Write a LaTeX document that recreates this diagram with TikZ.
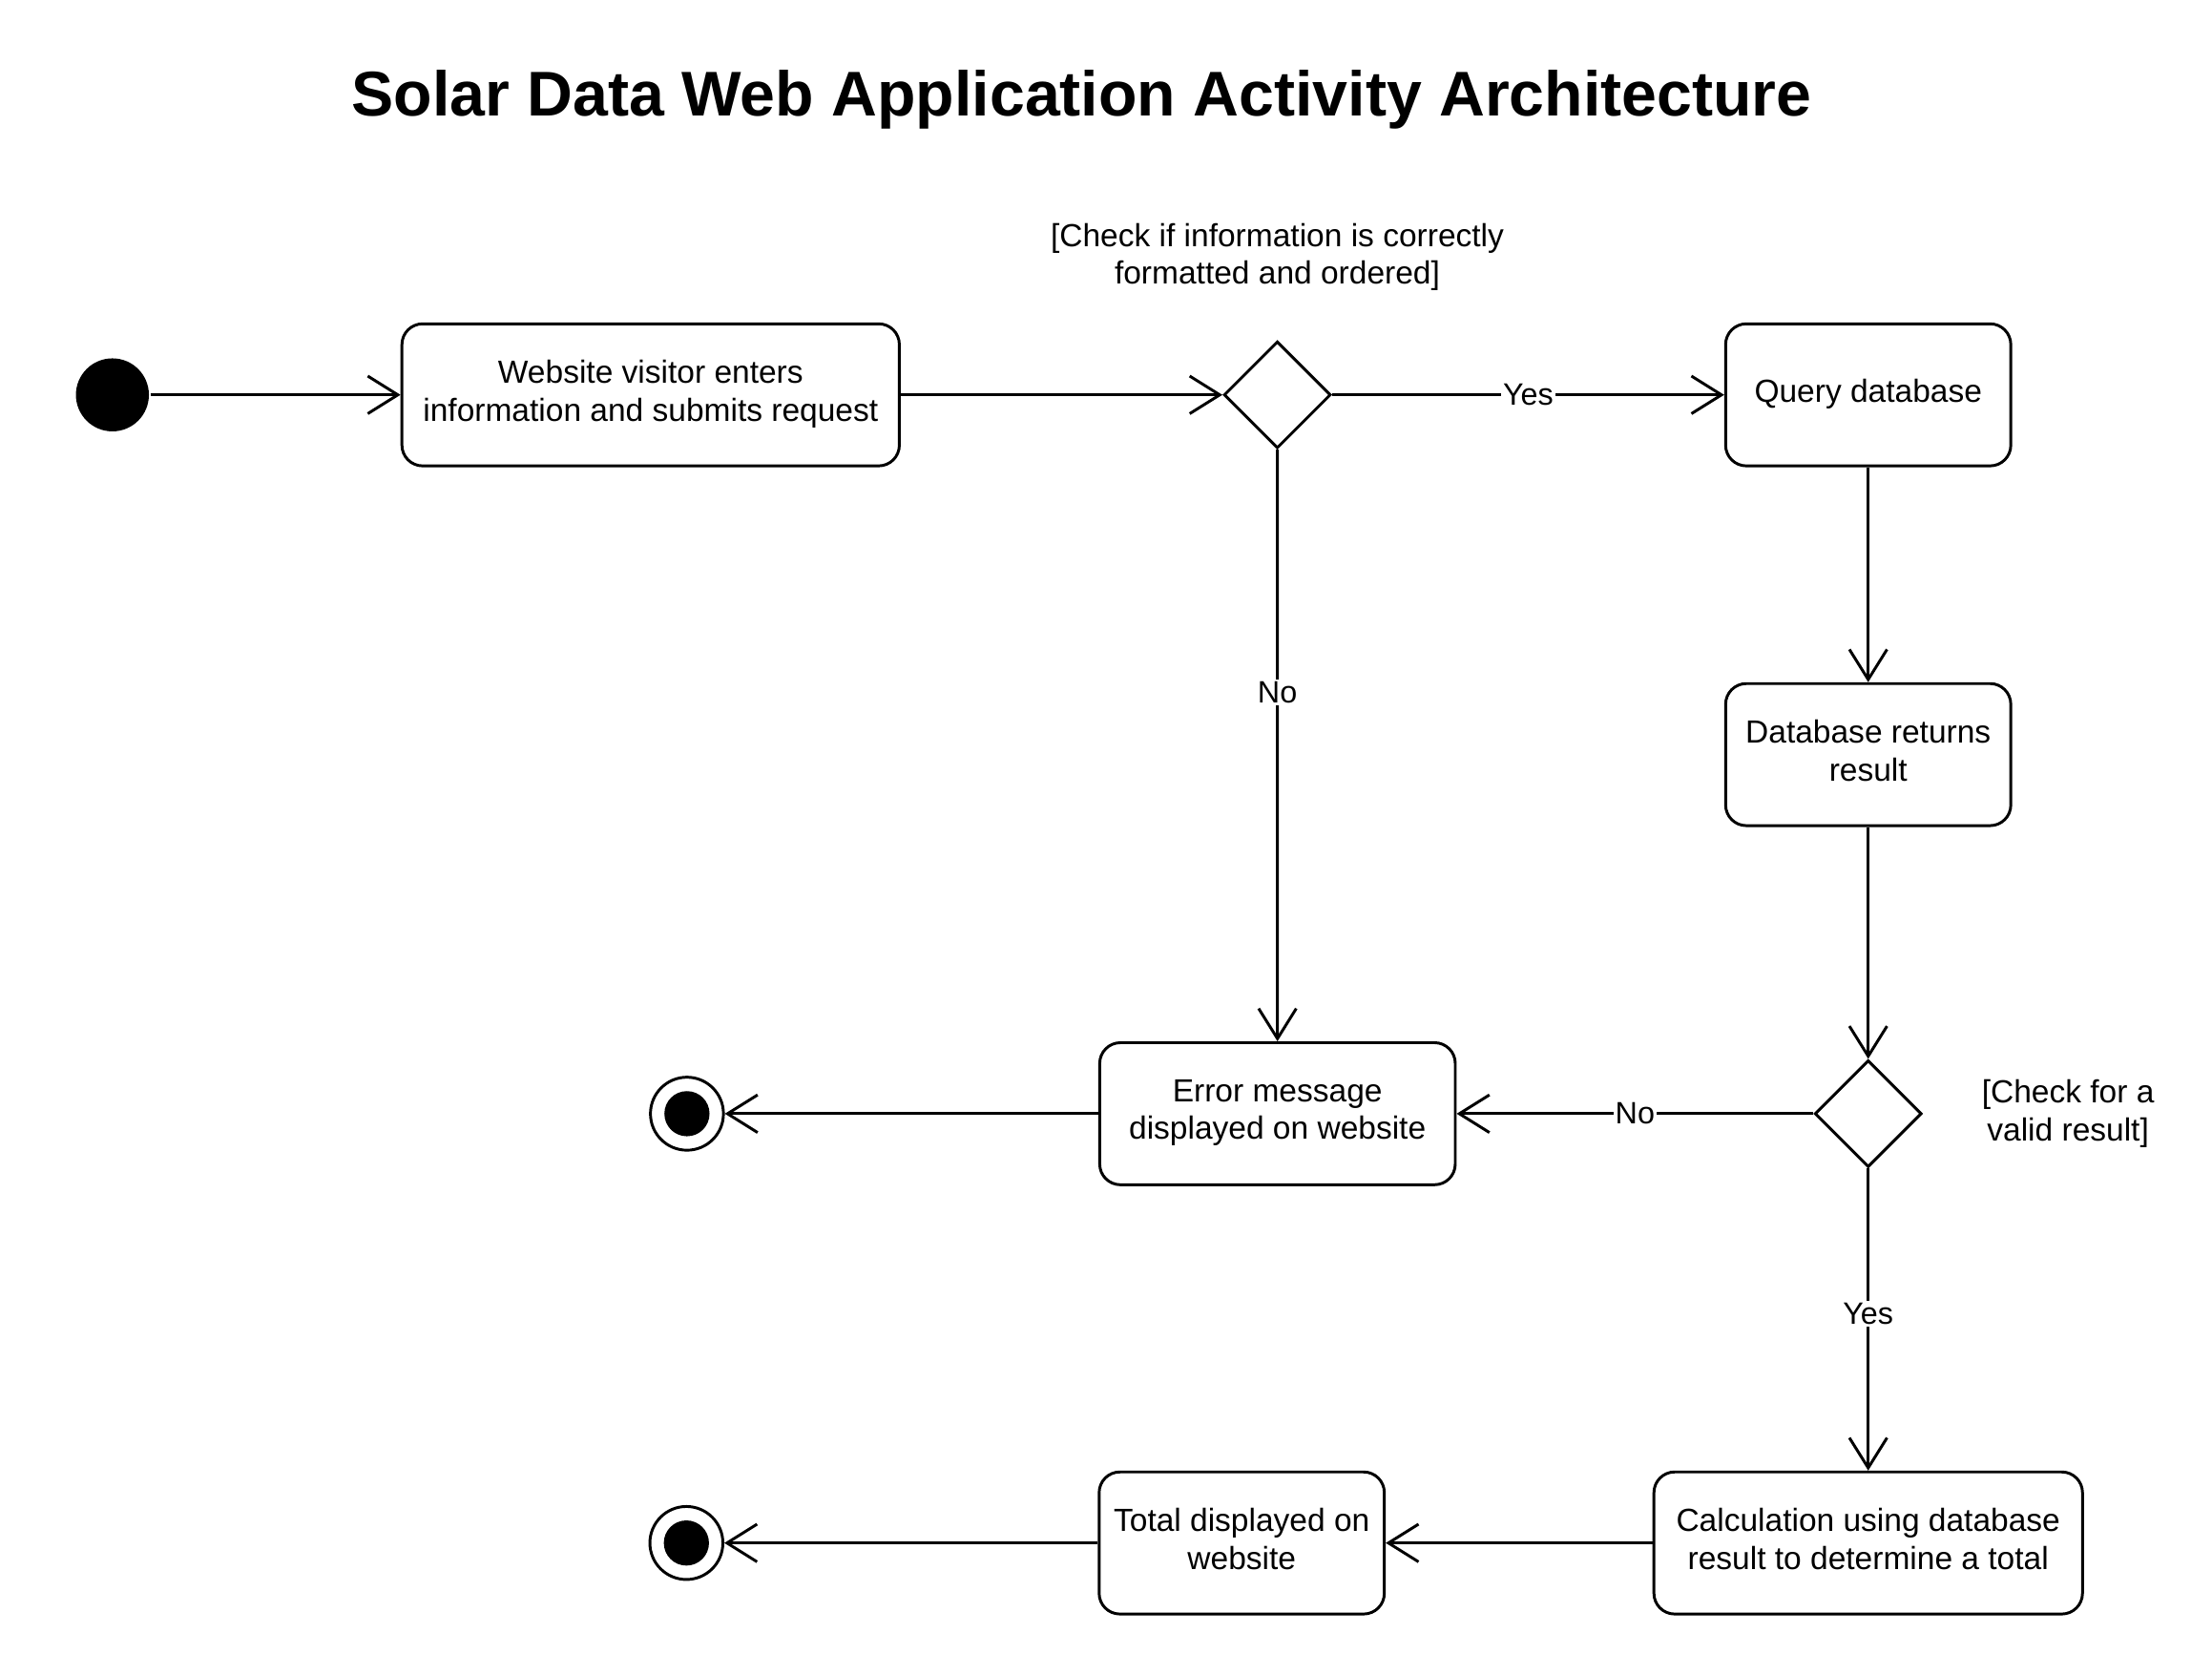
\documentclass[tikz,border=0pt]{standalone}
\usepackage{fontspec}
\setmainfont{Liberation Sans}
\usepackage{tikz}
\usetikzlibrary{positioning,shapes.geometric,arrows.meta}

\tikzset{
	activity/.style={draw, rounded corners=11pt, minimum height=75.5pt, inner sep=0pt, align=center, execute at end node={\rule[-4.4pt]{0pt}{1pt}}},
	decision/.style={draw, diamond, minimum width=56.8pt, minimum height=56.8pt, inner sep=0pt},
	startnode/.style={circle, fill, minimum size=38.8pt, inner sep=0pt},
	endnode/.style={circle, draw, minimum size=38.8pt, inner sep=0pt, path picture={\fill (path picture bounding box.center) circle (12pt);}},
	guard/.style={align=center, inner sep=0pt},
	lbl/.style={fill=white, inner sep=1pt, font=\fontsize{16.4pt}{19pt}\selectfont},
}

\begin{document}
\begin{tikzpicture}[x=0.5pt, y=-0.5pt, line width=1.5pt, font=\fontsize{17pt}{20pt}\selectfont, >={Straight Barb[length=16pt,width=20pt]}]
	\useasboundingbox (0,0) rectangle (2351.6,1758.1);
	\node[font=\fontsize{33.6pt}{40pt}\selectfont\bfseries] (title) at (1150,105.5) {Solar Data Web Application Activity Architecture};
	
	\node[startnode] (start) at (119.5,419.7) {};
	\node[activity, minimum width=264.4pt, right=133pt of start] (enter) {Website visitor enters\\information and submits request};
	\node[decision, right=171pt of enter] (checkfmt) {};
	\node[guard, above=25.5pt of checkfmt] (fmtguard) {[Check if information is correctly\\formatted and ordered]};
	\node[activity, minimum width=151.6pt, right=208.4pt of checkfmt] (query) {Query database};
	\node[activity, minimum width=151.6pt, below=114.2pt of query] (result) {Database returns\\result};
	\node[decision, below=123.2pt of result] (checkres) {};
	\node[guard, right=30.5pt of checkres] (resguard) {[Check for a\\valid result]};
	\node[activity, minimum width=189pt, left=189.6pt of checkres] (error) {Error message\\displayed on website};
	\node[endnode, left=198.5pt of error] (end1) {};
	\node[activity, minimum width=227.8pt, below=160.5pt of checkres] (calc) {Calculation using database\\result to determine a total};
	\node[activity, minimum width=151.6pt, left=141.8pt of calc] (total) {Total displayed on\\website};
	\node[endnode, left=198.5pt of total] (end2) {};
	
	\path[->] (start) edge (enter);
	\path[->] (enter) edge (checkfmt);
	\path[->] (checkfmt) edge node[lbl]{Yes} (query);
	\path[->] (checkfmt) edge node[lbl, pos=0.41]{No} (error);
	\path[->] (query) edge (result);
	\path[->] (result) edge (checkres);
	\path[->] (checkres) edge node[lbl]{No} (error);
	\path[->] (checkres) edge node[lbl, pos=0.48]{Yes} (calc);
	\path[->] (calc) edge (total);
	\path[->] (total) edge (end2);
	\path[->] (error) edge (end1);
\end{tikzpicture}
\end{document}
